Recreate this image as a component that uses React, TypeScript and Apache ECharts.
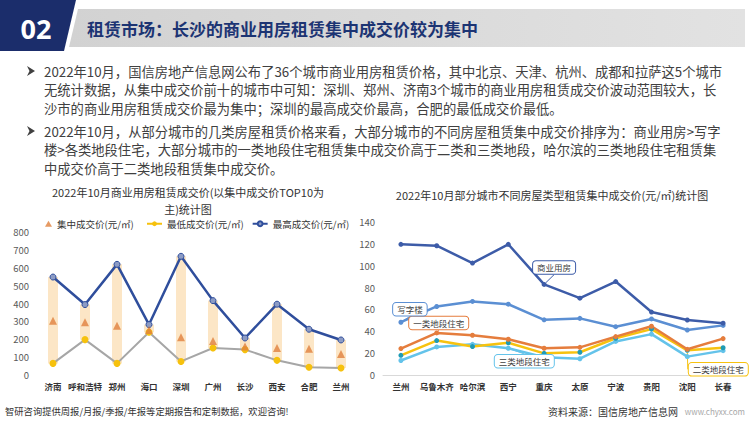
import React, { useEffect, useRef } from 'react';
import * as echarts from 'echarts';

// ---------- Left chart data ----------
const leftCities = ['济南', '呼和浩特', '郑州', '海口', '深圳', '广州', '长沙', '西安', '合肥', '兰州'];
const leftMid = [304, 295, 276, 252, 211, 190, 159, 151, 147, 118];
const leftLow = [65, 198, 65, 239, 76, 151, 142, 82, 43, 39];
const leftHigh = [548, 394, 619, 282, 664, 416, 207, 396, 256, 196];
const leftNames = ['集中成交价(元/㎡)', '最低成交价(元/㎡)', '最高成交价(元/㎡)'];

// ---------- Right chart data ----------
const rightCities = ['兰州', '乌鲁木齐', '哈尔滨', '西宁', '重庆', '太原', '宁波', '贵阳', '沈阳', '长春'];
const commercial = [119.6, 118.3, 102.4, 119.6, 82.9, 70.3, 85.5, 57.6, 50.3, 47.4];
const office = [48.3, 62.7, 67.3, 64.8, 50.5, 51.8, 44.2, 51.3, 41.2, 45.4];
const class1 = [24.2, 38.5, 36.4, 32.7, 24.5, 25.3, 35.1, 44.6, 23.5, 33.3];
const class2 = [18.0, 31.5, 26.0, 29.5, 19.8, 20.8, 33.6, 42.0, 22.6, 24.9];
const class3 = [13.3, 25.7, 28.1, 24.5, 16.3, 14.9, 30.7, 37.4, 16.8, 22.3];
const rightNames = ['商业用房', '写字楼', '一类地段住宅', '二类地段住宅', '三类地段住宅'];

// ---------- Texts ----------
const headerNo = '02';
const headerTitle = '租赁市场：长沙的商业用房租赁集中成交价较为集中';
const para1 = [
  '2022年10月，国信房地产信息网公布了36个城市商业用房租赁价格，其中北京、天津、杭州、成都和拉萨这5个城市',
  '无统计数据，从集中成交价前十的城市中可知：深圳、郑州、济南3个城市的商业用房租赁成交价波动范围较大，长',
  '沙市的商业用房租赁成交价最为集中；深圳的最高成交价最高，合肥的最低成交价最低。',
];
const para2 = [
  '2022年10月，从部分城市的几类房屋租赁价格来看，大部分城市的不同房屋租赁集中成交价排序为：商业用房>写字',
  '楼>各类地段住宅，大部分城市的一类地段住宅租赁集中成交价高于二类和三类地段，哈尔滨的三类地段住宅租赁集',
  '中成交价高于二类地段租赁集中成交价。',
];
const leftTitleLines = ['2022年10月商业用房租赁成交价(以集中成交价TOP10为', '主)统计图'];
const rightTitle = '2022年10月部分城市不同房屋类型租赁集中成交价(元/㎡)统计图';
const footerLeft = '智研咨询提供周报/月报/季报/年报等定期报告和定制数据，欢迎咨询!';
const footerSource = '资料来源：国信房地产信息网';
const footerUrl = 'www.chyxx.com';

const FONT = '"Noto Sans CJK SC", "Noto Sans", sans-serif';

function calloutSeries(
  name: string,
  values: number[],
  lineColor: string,
  pointColor: string,
  idx: number,
  dx: number,
  dy: number
) {
  return {
    name,
    type: 'line',
    xAxisIndex: 1,
    yAxisIndex: 1,
    symbol: 'circle',
    symbolSize: 5,
    lineStyle: { color: lineColor, width: 2.5 },
    itemStyle: { color: pointColor },
    data: values.map((v, i) => (i === idx ? { value: v, label: { show: true } } : v)),
    label: {
      show: false,
      position: 'inside',
      formatter: name,
      fontSize: 8.5,
      color: '#404040',
      fontFamily: FONT,
      backgroundColor: '#ffffff',
      borderColor: lineColor,
      borderWidth: 1,
      borderRadius: 3,
      padding: [2, 4],
    },
    labelLayout: { dx, dy },
    labelLine: { show: true, lineStyle: { color: lineColor, width: 1 } },
  };
}

export default function App() {
  const ref = useRef<HTMLDivElement>(null);

  useEffect(() => {
    if (!ref.current) return;
    const chart = echarts.init(ref.current, undefined, { renderer: 'svg' });

    const textEl = (text: string, x: number, y: number, opts: any = {}) => ({
      type: 'text',
      x,
      y,
      silent: true,
      style: {
        text,
        fill: opts.fill || '#404040',
        fontSize: opts.fontSize || 13,
        fontWeight: opts.fontWeight || 'normal',
        fontFamily: opts.fontFamily || FONT,
        align: opts.align || 'left',
        verticalAlign: 'middle',
      },
    });

    const arrow = (x: number, y: number) => ({
      type: 'polygon',
      silent: true,
      shape: { points: [[x, y - 5], [x + 8, y], [x, y + 5], [x + 2.5, y]] },
      style: { fill: '#404040' },
    });

    const graphics: any[] = [
      {
        type: 'polygon',
        silent: true,
        shape: { points: [[78, 9], [745, 9], [745, 47], [69, 47]] },
        style: {
          fill: new echarts.graphic.LinearGradient(0, 0, 1, 0, [
            { offset: 0, color: '#d2d2d2' },
            { offset: 1, color: '#e2e2e2' },
          ]),
        },
      },
      {
        type: 'polygon',
        silent: true,
        shape: { points: [[0, 0], [76, 0], [64, 51], [0, 51]] },
        style: { fill: '#1b2d6b' },
      },
      textEl(headerNo, 36, 28, { fill: '#ffffff', fontSize: 27, fontWeight: 'bold', fontFamily: '"Open Sans", sans-serif', align: 'center' }),
      textEl(headerTitle, 87, 28, { fill: '#1c3473', fontSize: 17, fontWeight: 'bold' }),
      arrow(27, 71),
      arrow(27, 131),
      textEl(footerLeft, 5, 411, { fontSize: 9.3, fill: '#333' }),
      textEl(footerSource, 548, 411, { fontSize: 10, fill: '#333' }),
      textEl(footerUrl, 745, 411, { fontSize: 8, fill: '#a8a8a8', align: 'right' }),
    ];
    para1.forEach((t, i) => graphics.push(textEl(t, 44, 71 + i * 18.5, { fontSize: 13.3 })));
    para2.forEach((t, i) => graphics.push(textEl(t, 44, 131 + i * 18.5, { fontSize: 13.3 })));

    const axisLabelY = { fontSize: 9.5, color: '#595959', fontFamily: FONT };
    const axisLabelX = { fontSize: 8.5, color: '#333', fontWeight: 'bold', fontFamily: FONT, margin: 7, interval: 0 };
    const titleStyle = { fontSize: 11, fontWeight: 'normal', color: '#333', lineHeight: 12, fontFamily: FONT };

    const option: any = {
      animation: false,
      backgroundColor: '#ffffff',
      textStyle: { fontFamily: FONT },
      title: [
        { text: leftTitleLines[0], left: 188, top: 186, padding: 0, textAlign: 'center', textStyle: titleStyle },
        { text: leftTitleLines[1], left: 188, top: 203, padding: 0, textAlign: 'center', textStyle: titleStyle },
        { text: rightTitle, left: 552, top: 189, padding: 0, textAlign: 'center', textStyle: titleStyle },
      ],
      legend: [
        {
          left: 45,
          top: 219,
          padding: 0,
          itemWidth: 7,
          itemHeight: 6,
          selectedMode: false,
          data: [{ name: leftNames[0], icon: 'triangle' }],
          textStyle: { fontSize: 9.5, color: '#333', fontFamily: FONT },
        },
        {
          left: 146,
          top: 219,
          padding: 0,
          itemWidth: 15,
          itemHeight: 6,
          itemGap: 8,
          selectedMode: false,
          data: [
            { name: leftNames[1], lineStyle: { color: '#f6c10d' } },
            { name: leftNames[2] },
          ],
          textStyle: { fontSize: 9.5, color: '#333', fontFamily: FONT },
        },
      ],
      grid: [
        { left: 37, right: 393, top: 232, bottom: 47 },
        { left: 383, right: 9, top: 222, bottom: 47 },
      ],
      xAxis: [
        {
          type: 'category',
          gridIndex: 0,
          data: leftCities,
          axisLine: { show: false },
          axisTick: { show: false },
          axisLabel: axisLabelX,
        },
        {
          type: 'category',
          gridIndex: 1,
          data: rightCities,
          axisLine: { show: true, lineStyle: { color: '#d9d9d9', width: 1 } },
          axisTick: { show: false },
          axisLabel: axisLabelX,
        },
      ],
      yAxis: [
        {
          type: 'value',
          gridIndex: 0,
          min: 0,
          max: 800,
          interval: 100,
          axisLine: { show: false },
          axisTick: { show: false },
          splitLine: { show: false },
          axisLabel: { ...axisLabelY, margin: 8 },
        },
        {
          type: 'value',
          gridIndex: 1,
          min: 0,
          max: 140,
          interval: 20,
          axisLine: { show: false },
          axisTick: { show: false },
          splitLine: { show: false },
          axisLabel: { ...axisLabelY, margin: 8 },
        },
      ],
      series: [
        {
          name: 'base',
          type: 'bar',
          xAxisIndex: 0,
          yAxisIndex: 0,
          stack: 'range',
          barWidth: 10,
          silent: true,
          itemStyle: { color: 'rgba(0,0,0,0)' },
          data: leftLow,
        },
        {
          name: 'range',
          type: 'bar',
          xAxisIndex: 0,
          yAxisIndex: 0,
          stack: 'range',
          barWidth: 10,
          silent: true,
          itemStyle: { color: '#fce6c6' },
          data: leftHigh.map((h, i) => h - leftLow[i]),
        },
        {
          name: leftNames[1],
          type: 'line',
          xAxisIndex: 0,
          yAxisIndex: 0,
          symbol: 'circle',
          symbolSize: 7,
          lineStyle: { color: '#a6a6a6', width: 2 },
          itemStyle: { color: '#f6c10d' },
          z: 4,
          data: leftLow,
        },
        {
          name: leftNames[2],
          type: 'line',
          xAxisIndex: 0,
          yAxisIndex: 0,
          symbol: 'circle',
          symbolSize: 6,
          lineStyle: { color: '#2f4e9c', width: 2.5 },
          itemStyle: { color: '#8c9bc4', borderColor: '#2f4e9c', borderWidth: 1 },
          z: 4,
          data: leftHigh,
        },
        {
          name: leftNames[0],
          type: 'scatter',
          xAxisIndex: 0,
          yAxisIndex: 0,
          symbol: 'triangle',
          symbolSize: 8,
          itemStyle: { color: '#e0813d' },
          z: 5,
          data: leftMid,
        },
        calloutSeries(rightNames[4], class3, '#64c3ea', '#64c3ea', 3, 16, 13),
        calloutSeries(rightNames[3], class2, '#f7c20f', '#1f9bb5', 8, 31, 19),
        calloutSeries(rightNames[2], class1, '#e57d3d', '#e57d3d', 1, 2, -10),
        calloutSeries(rightNames[1], office, '#5b8fd3', '#5b8fd3', 0, 9, -13),
        calloutSeries(rightNames[0], commercial, '#3d5ca8', '#3d5ca8', 4, 10, -17),
      ],
      graphic: graphics,
    };

    chart.setOption(option);
    return () => chart.dispose();
  }, []);

  return (
    <div
      ref={ref}
      style={{ position: 'absolute', left: 0, top: 0, width: 750, height: 422, background: '#fff' }}
    />
  );
}
